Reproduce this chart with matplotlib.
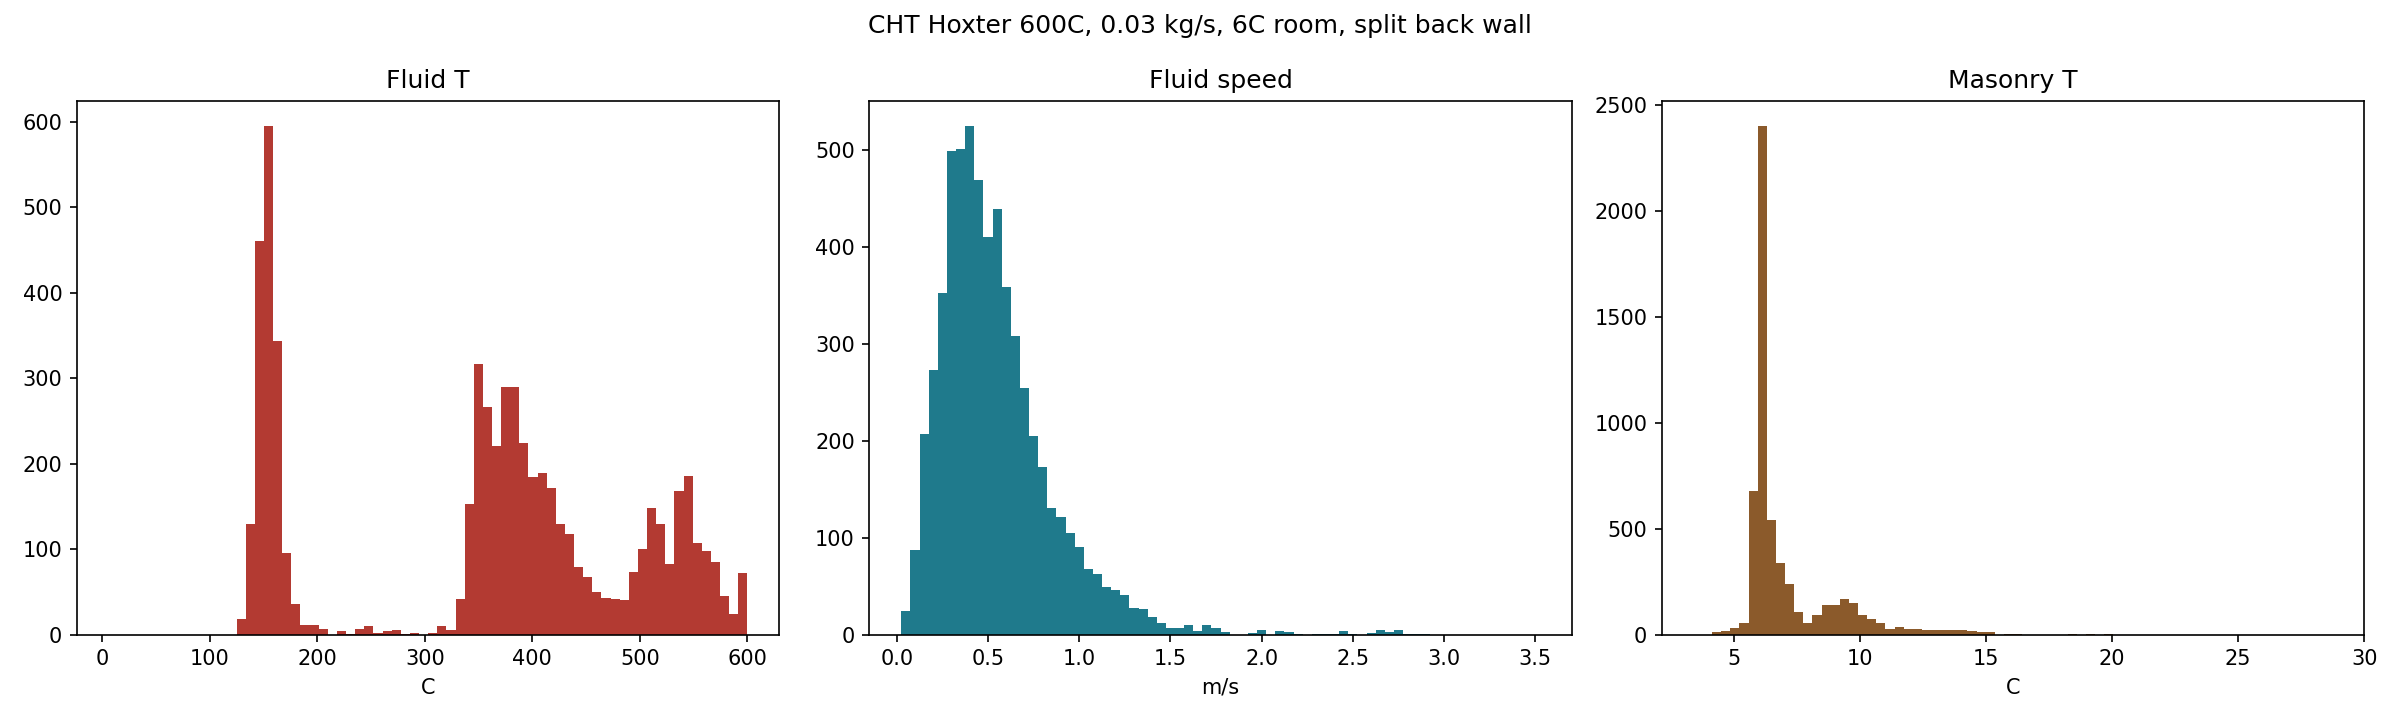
import numpy as np
import matplotlib
matplotlib.use("Agg")
import matplotlib.pyplot as plt

# counts per bin (70 bins each)
fluid_t_range = (6.3, 600.0)
fluid_t_counts = [0] * 14 + [
    18, 129, 460, 595, 344, 95, 36, 11, 11, 7, 0, 4, 1, 7, 10, 2, 4, 5, 1, 2,
    0, 2, 10, 5, 42, 153, 317, 266, 221, 290, 290, 224, 184, 189, 172, 129, 118,
    79, 67, 50, 43, 42, 41, 73, 100, 148, 129, 82, 168, 186, 107, 98, 85, 45, 24, 72]

speed_range = (0.025, 3.525)
speed_counts = [
    24, 87, 207, 273, 353, 499, 501, 525, 469, 410, 439, 359, 308, 255, 205, 173,
    131, 121, 105, 90, 68, 63, 49, 46, 41, 27, 26, 18, 12, 7, 7, 10, 4, 10, 7, 3,
    0, 0, 2, 5, 0, 4, 3, 1, 0, 1, 1, 1, 4, 1, 0, 2, 5, 3, 5, 1, 1, 1] + [0] * 12

masonry_range = (3.42, 28.73)
masonry_counts = [
    0, 0, 10, 15, 30, 54, 679, 2400, 543, 338, 241, 107, 54, 92, 140, 140, 169,
    149, 92, 74, 54, 25, 38, 25, 25, 20, 20, 20, 20, 20, 15, 10, 10, 0, 5, 5,
    0, 0, 0, 0, 0, 5, 0, 5, 0, 5] + [0] * 24

panels = [
    ("Fluid T", "C", fluid_t_range, fluid_t_counts, "#b33a32"),
    ("Fluid speed", "m/s", speed_range, speed_counts, "#1f7a8c"),
    ("Masonry T", "C", masonry_range, masonry_counts, "#8b5a2b"),
]

fig, axes = plt.subplots(1, 3, figsize=(16, 4.8), dpi=150)
for ax, (title, unit, (lo, hi), counts, color) in zip(axes, panels):
    edges = np.linspace(lo, hi, len(counts) + 1)
    ax.stairs(counts, edges, fill=True, color=color)
    ax.set_title(title)
    ax.set_xlabel(unit)
    ax.set_ylim(0, max(counts) * 1.05)
    m = 0.05 * (hi - lo)
    ax.set_xlim(lo - m, hi + m)
axes[1].set_xticks(np.arange(0, 3.6, 0.5))
axes[2].set_xlim(2.15, 30)
axes[2].set_xticks(np.arange(5, 31, 5))
fig.suptitle("CHT Hoxter 600C, 0.03 kg/s, 6C room, split back wall")
fig.tight_layout()
fig.savefig("out.png")
